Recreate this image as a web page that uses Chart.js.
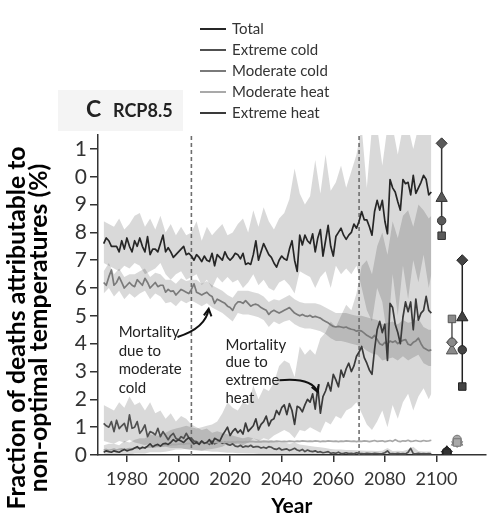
<!DOCTYPE html>
<html>
<head>
<meta charset="utf-8">
<script src="https://cdn.jsdelivr.net/npm/chart.js@4.4.0/dist/chart.umd.min.js"></script>
<style>
  body { margin: 0; background: #fff; }
  canvas { display: block; }
</style>
</head>
<body>
<canvas id="chart" width="493" height="517"></canvas>
<script>
// ---- data ----
const seriesNames = ["Total", "Extreme cold", "Moderate cold", "Moderate heat", "Extreme heat"];
const yTickLabels = ["0", "1", "2", "3", "4", "5", "6", "7", "8", "9", "0", "1"];
const periodMarks = [2005, 2070];

// yearly values 1971-2098
const years = [];
for (let y = 1971; y <= 2098; y++) years.push(y);

const total = [
  7.6, 7.8, 7.7, 7.5, 7.5, 7.5, 7.3, 7.7, 7.4, 7.8,
  7.5, 7.3, 7.7, 7.5, 7.8, 7.5, 7.3, 7.85, 7.2, 7.4,
  7.4, 7.3, 7.6, 7.9, 7.3, 7.45, 7.3, 7.1, 7.2, 7.3,
  7.4, 7.5, 7.2, 7.25, 7.15, 7.0, 7.2, 7.1, 6.95, 7.15,
  7.0, 6.95, 7.25, 6.8, 7.2, 7.1, 7.0, 7.3, 7.1, 7.0,
  7.1, 7.25, 7.2, 7.05, 7.25, 6.85, 6.9, 6.85, 7.2, 7.7,
  7.0, 7.3, 7.6, 7.4, 7.2, 7.1, 6.9, 6.75, 7.0, 7.15,
  7.05, 7.0, 7.4, 7.7, 7.0, 6.6, 7.9, 7.55, 7.9, 7.7,
  7.6, 7.95, 7.3, 7.8, 8.1, 7.15, 7.7, 8.25, 7.5, 7.15,
  7.85, 8.0, 8.15, 7.9, 7.75, 7.9, 8.0, 8.3, 8.15, 8.4,
  8.75, 8.45, 8.45, 8.2, 7.9, 8.75, 9.15, 8.8, 9.15, 8.4,
  7.95, 9.9, 9.6, 9.45, 9.1, 8.8, 9.9, 9.75, 9.8, 9.35,
  10.05, 9.4, 9.6, 9.8, 10.05, 9.9, 9.35, 9.45
];
const extremeCold = [
  1.14, 1.05, 1.0, 1.2, 0.84, 1.25, 0.95, 1.05, 1.14, 0.85,
  1.44, 0.96, 1.0, 1.2, 0.78, 0.9, 1.08, 0.66, 0.84, 0.8,
  0.72, 0.96, 0.66, 0.84, 0.7, 0.55, 0.7, 0.78, 0.6, 0.54,
  0.66, 0.6, 0.78, 0.62, 0.6, 0.5, 0.48, 0.42, 0.5, 0.42,
  0.45, 0.38, 0.5, 0.4, 0.45, 0.48, 0.42, 0.45, 0.38, 0.35,
  0.4, 0.32, 0.3, 0.35, 0.28, 0.32, 0.3, 0.35, 0.28, 0.3,
  0.3, 0.25, 0.28, 0.24, 0.3, 0.28, 0.22, 0.2, 0.25, 0.18,
  0.2, 0.22, 0.16, 0.2, 0.24, 0.18, 0.15, 0.2, 0.12, 0.18,
  0.14, 0.12, 0.15, 0.1, 0.12, 0.08, 0.1, 0.12, 0.06, 0.08,
  0.06, 0.1, 0.05, 0.06, 0.08, 0.05, 0.06, 0.04, 0.08, 0.06,
  0.05, 0.04, 0.06, 0.05, 0.04, 0.06, 0.05, 0.04, 0.05, 0.08,
  0.15, 0.04, 0.05, 0.04, 0.06, 0.04, 0.05, 0.04, 0.1, 0.24,
  0.05, 0.04, 0.06, 0.04, 0.05, 0.04, 0.05, 0.04
];
const moderateCold = [
  6.2, 6.1, 6.4, 6.65, 6.1, 6.2, 6.4, 6.2, 6.0, 6.1,
  6.2, 6.1, 6.05, 6.3, 6.2, 6.1, 6.35, 6.2, 6.0, 6.1,
  6.2, 6.05, 6.1, 6.1, 5.85, 5.95, 5.88, 5.9, 5.75, 5.85,
  5.95, 5.9, 5.85, 5.8, 5.95, 6.15, 5.85, 5.8, 5.75, 5.8,
  5.85, 5.75, 5.7, 5.45, 5.6, 5.55, 5.5, 5.45, 5.35, 5.3,
  5.2, 5.4, 5.5, 5.5, 5.45, 5.55, 5.45, 5.35, 5.4, 5.42,
  5.38, 5.3, 5.25, 5.2, 5.05, 5.15, 5.2, 5.15, 5.1, 5.15,
  5.2, 5.25, 5.3, 5.2, 5.1, 5.05, 5.0, 5.05, 5.0, 4.98,
  5.02, 4.95, 4.98, 4.95, 4.92, 4.85, 4.8, 4.75, 4.68, 4.62,
  4.6, 4.62, 4.6, 4.58, 4.6, 4.55, 4.52, 4.5, 4.45, 4.48,
  4.45, 4.38, 4.3, 4.25, 4.2, 4.3, 4.15, 4.0, 3.95, 4.05,
  3.98, 4.1, 4.05, 4.1, 4.0, 4.08, 4.12, 4.15, 3.98, 3.95,
  4.05, 4.1, 4.2, 4.0, 3.85, 3.8, 3.75, 3.78
];
const moderateHeat = [
  0.18, 0.2, 0.17, 0.19, 0.21, 0.18, 0.2, 0.22, 0.2, 0.21,
  0.23, 0.22, 0.25, 0.24, 0.26, 0.25, 0.27, 0.28, 0.3, 0.28,
  0.3, 0.32, 0.31, 0.33, 0.35, 0.34, 0.36, 0.38, 0.37, 0.39,
  0.4, 0.38, 0.41, 0.42, 0.4, 0.41, 0.43, 0.42, 0.44, 0.43,
  0.44, 0.45, 0.43, 0.46, 0.45, 0.47, 0.46, 0.45, 0.47, 0.46,
  0.47, 0.46, 0.48, 0.47, 0.46, 0.48, 0.47, 0.49, 0.48, 0.47,
  0.48, 0.47, 0.49, 0.48, 0.47, 0.49, 0.48, 0.5, 0.49, 0.48,
  0.49, 0.48, 0.5, 0.49, 0.48, 0.5, 0.49, 0.51, 0.5, 0.49,
  0.5, 0.49, 0.51, 0.5, 0.48, 0.5, 0.49, 0.51, 0.5, 0.49,
  0.5, 0.48, 0.5, 0.49, 0.51, 0.5, 0.49, 0.5, 0.48, 0.5,
  0.49, 0.51, 0.5, 0.48, 0.5, 0.52, 0.49, 0.5, 0.51, 0.48,
  0.5, 0.52, 0.49, 0.55, 0.5, 0.48, 0.51, 0.5, 0.53, 0.49,
  0.5, 0.52, 0.5, 0.49, 0.52, 0.5, 0.51, 0.53
];
const extremeHeat = [
  0.1, 0.15, 0.12, 0.1, 0.15, 0.12, 0.1, 0.15, 0.2, 0.15,
  0.18, 0.2, 0.25, 0.3, 0.22, 0.28, 0.25, 0.32, 0.4, 0.3,
  0.35, 0.38, 0.32, 0.4, 0.42, 0.38, 0.45, 0.55, 0.48, 0.55,
  0.5, 0.45, 0.55, 0.62, 0.5, 0.4, 0.45, 0.38, 0.5, 0.42,
  0.45, 0.55, 0.4, 0.6, 0.55, 0.5, 0.7, 0.85, 1.0, 0.7,
  0.85, 0.95, 0.8, 0.9, 0.75, 1.15, 0.85, 0.95, 1.05, 1.3,
  0.9, 1.1, 1.2, 1.4, 1.05, 1.25, 1.3, 1.6, 1.45, 1.7,
  1.8, 1.45, 1.85, 1.6, 1.1, 1.75, 1.7, 1.55, 1.8, 2.0,
  1.9, 2.2, 1.65, 2.45, 1.5, 2.1, 2.3, 2.6, 2.3, 2.9,
  2.7, 2.45, 3.05, 2.8, 3.1, 3.3, 3.0, 3.2, 3.55, 3.7,
  3.9, 3.5, 3.3, 3.05, 2.9, 3.8, 4.5, 4.8, 4.4, 4.7,
  3.4, 5.45, 5.3, 4.7, 4.4, 4.0, 4.95, 5.5, 5.15, 5.5,
  4.5, 5.6, 4.85, 5.1, 5.2, 5.7, 5.2, 5.1
];

// confidence bands, every second year 1971-2097 plus 2098
const bandYears = [];
for (let y = 1971; y <= 2097; y += 2) bandYears.push(y);
bandYears.push(2098);

const totalHigh = [
  8.4, 8.3, 8.2, 8.5, 8.1, 8.3, 8.6, 8.7,
  8.2, 8.5, 8.1, 8.6, 8.0, 8.3, 7.9, 8.2,
  7.9, 8.0, 8.4, 7.7, 8.2, 7.9, 8.1, 8.3,
  7.9, 8.0, 8.3, 8.5, 8.0, 8.8, 8.2, 8.9,
  8.4, 8.1, 8.5, 8.7, 9.2, 10.3, 9.4, 9.0,
  9.3, 10.6, 9.4, 10.8, 9.5, 9.8, 10.4, 9.6,
  10.2, 10.8, 11.8, 9.6, 11.8, 11.8, 10.4, 11.8,
  11.8, 10.8, 11.8, 11.8, 11.0, 11.8, 11.8, 11.8,
  11.8
];
const totalLow = [
  6.9, 6.8, 6.7, 6.6, 6.8, 6.7, 6.9, 6.8,
  6.5, 6.6, 6.7, 6.9, 6.5, 6.3, 6.5, 6.6,
  6.3, 6.4, 6.5, 6.1, 6.3, 6.0, 6.4, 6.2,
  6.4, 6.2, 6.3, 6.0, 6.2, 6.5, 6.1, 6.3,
  6.0, 5.9, 6.2, 6.3, 6.1, 5.8, 6.6, 6.5,
  6.4, 6.0, 6.4, 6.6, 6.0, 6.8, 6.5, 6.7,
  6.5, 6.8, 6.0, 5.2, 4.8, 6.0, 5.5, 4.2,
  6.5, 5.0, 6.8, 5.6, 7.0, 6.2, 7.2, 6.0,
  6.5
];
const modColdHigh = [
  6.6, 6.9, 6.5, 6.7, 6.4, 6.5, 6.5, 6.6,
  6.7, 6.4, 6.55, 6.5, 6.3, 6.3, 6.15, 6.35,
  6.25, 6.3, 6.3, 6.15, 6.25, 6.1, 6.0, 5.9,
  5.75, 5.65, 5.9, 5.9, 5.9, 5.85, 5.8, 5.7,
  5.5, 5.6, 5.55, 5.65, 5.75, 5.6, 5.5, 5.45,
  5.45, 5.45, 5.4, 5.3, 5.2, 5.1, 5.1, 5.1,
  5.05, 5.0, 5.0, 4.95, 4.9, 4.85, 4.7, 4.75,
  4.8, 4.7, 4.85, 4.75, 4.8, 4.9, 4.6, 4.5,
  4.5
];
const modColdLow = [
  5.8, 6.0, 5.7, 5.9, 5.6, 5.8, 5.65, 5.8,
  5.9, 5.6, 5.8, 5.7, 5.45, 5.5, 5.35, 5.55,
  5.45, 5.55, 5.45, 5.35, 5.45, 5.3, 5.2, 5.1,
  4.95, 4.8, 5.1, 5.05, 5.05, 5.0, 4.95, 4.85,
  4.6, 4.8, 4.7, 4.8, 4.85, 4.7, 4.6, 4.55,
  4.55, 4.5, 4.45, 4.35, 4.2, 4.1, 4.1, 4.05,
  4.0, 3.95, 3.9, 3.75, 3.65, 3.6, 3.4, 3.45,
  3.5, 3.4, 3.55, 3.4, 3.5, 3.6, 3.3, 3.2,
  3.2
];
const extHeatHigh = [
  0.35, 0.4, 0.4, 0.35, 0.5, 0.45, 0.55, 0.6,
  0.6, 0.75, 0.7, 0.7, 0.8, 0.9, 0.95, 1.0,
  1.05, 1.0, 0.95, 1.0, 1.05, 1.1, 1.2, 1.5,
  1.9, 1.7, 1.6, 1.9, 1.8, 2.5, 2.0, 2.4,
  2.3, 2.6, 3.2, 3.4, 3.3, 2.8, 3.9, 3.6,
  3.8, 3.6, 4.2, 4.4, 4.8, 4.6, 5.0, 5.4,
  5.2, 5.8, 6.8, 7.0, 6.5, 7.5, 8.0, 7.2,
  8.4, 7.8, 8.6, 8.8, 8.2, 9.0, 8.8, 8.5,
  8.6
];
const extHeatLow = [
  0.0, 0.0, 0.0, 0.0, 0.02, 0.0, 0.05, 0.05,
  0.05, 0.1, 0.1, 0.1, 0.12, 0.15, 0.2, 0.2,
  0.22, 0.2, 0.18, 0.15, 0.2, 0.22, 0.25, 0.3,
  0.4, 0.35, 0.4, 0.35, 0.45, 0.6, 0.5, 0.6,
  0.55, 0.7, 0.8, 0.9, 0.8, 0.6, 0.9, 0.85,
  1.0, 0.9, 0.8, 1.2, 1.1, 1.4, 1.3, 1.6,
  1.7, 1.9, 1.5, 1.1, 0.9, 1.2, 1.6, 1.0,
  1.8, 1.3, 1.9, 2.2, 1.6, 2.1, 2.4, 2.0,
  2.2
];
const extColdHigh = [
  1.8, 1.7, 1.6, 1.9, 1.7, 2.1, 1.8, 1.9,
  1.6, 1.9, 1.5, 1.6, 1.3, 1.5, 1.2, 1.4,
  1.3, 1.1, 1.0, 0.9, 0.95, 0.8, 0.85, 0.8,
  0.75, 0.7, 0.65, 0.6, 0.65, 0.6, 0.55, 0.55,
  0.55, 0.5, 0.45, 0.45, 0.4, 0.45, 0.38, 0.35,
  0.32, 0.3, 0.28, 0.25, 0.22, 0.2, 0.2, 0.18,
  0.18, 0.17, 0.16, 0.15, 0.15, 0.14, 0.15, 0.25,
  0.14, 0.15, 0.14, 0.2, 0.3, 0.14, 0.13, 0.13,
  0.13
];
const extColdLow = [
  0.5, 0.45, 0.4, 0.5, 0.45, 0.55, 0.45, 0.4,
  0.35, 0.4, 0.35, 0.3, 0.3, 0.25, 0.25, 0.25,
  0.2, 0.18, 0.16, 0.15, 0.14, 0.12, 0.12, 0.1,
  0.08, 0.08, 0.06, 0.06, 0.05, 0.05, 0.04, 0.04,
  0.03, 0.03, 0.02, 0.02, 0.02, 0.02, 0.01, 0.01,
  0, 0, 0, 0, 0, 0, 0, 0,
  0, 0, 0, 0, 0, 0, 0, 0,
  0, 0, 0, 0, 0, 0, 0, 0,
  0
];

// end-of-century estimates, one group per series
const markerYears = [2102, 2104, 2106, 2108, 2110];
const diamondVals = [11.2, 0.12, 4.05, 0.47, 7.0];
const triangleVals = [9.23, 0.1, 3.75, 0.47, 4.94];
const circleVals = [8.42, 0.12, 4.05, 0.56, 3.78];
const squareVals = [7.88, 0.08, 4.89, 0.45, 2.46];

// ---- styles ----
const lineColors = ["#262626", "#505050", "#7a7a7a", "#a9a9a9", "#3a3a3a"];
const markerFill = ["#5a5a5a", "#333333", "#8a8a8a", "#a8a8a8", "#444444"];
const markerEdge = ["#333333", "#222222", "#555555", "#777777", "#222222"];
const bandColor = "rgba(0,0,0,0.15)";
const FONT = "Lato, 'Open Sans', sans-serif";

function pts(xs, ys) {
  return xs.map((x, i) => ({ x: x, y: ys[i] }));
}

const datasets = [];
const bands = [[extColdLow, extColdHigh], [extHeatLow, extHeatHigh], [modColdLow, modColdHigh], [totalLow, totalHigh]];
bands.forEach(([lo, hi]) => {
  datasets.push({ data: pts(bandYears, lo), borderWidth: 0, pointRadius: 0, fill: false, order: 10 });
  datasets.push({ data: pts(bandYears, hi), borderWidth: 0, pointRadius: 0, fill: "-1",
    backgroundColor: bandColor, order: 10 });
});

periodMarks.forEach(yr => {
  datasets.push({ data: [{ x: yr, y: 0 }, { x: yr, y: 11.5 }], borderColor: "#6e6e6e", borderWidth: 1.6,
    borderDash: [4, 3], pointRadius: 0, fill: false, order: 5 });
});

const series = [total, extremeCold, moderateCold, moderateHeat, extremeHeat];
series.forEach((vals, i) => {
  datasets.push({ label: seriesNames[i], data: pts(years, vals), borderColor: lineColors[i],
    borderWidth: 1.7, pointRadius: 0, fill: false, borderJoinStyle: "round", order: 3 - i * 0.1 });
});

// vertical range line behind each marker group
markerYears.forEach((yr, g) => {
  const v = [diamondVals[g], triangleVals[g], circleVals[g], squareVals[g]];
  datasets.push({ data: [{ x: yr, y: Math.min(...v) }, { x: yr, y: Math.max(...v) }],
    borderColor: markerEdge[g], borderWidth: 1.5, pointRadius: 0, fill: false, order: 1 });
});

const markerSets = [
  { vals: diamondVals, style: "rectRot", r: 5.5, order: 0.4 },
  { vals: triangleVals, style: "triangle", r: 6.5, order: 0.3 },
  { vals: circleVals, style: "circle", r: 4.2, order: 0.2 },
  { vals: squareVals, style: "rect", r: 5.3, order: 0.1 }
];
markerSets.forEach(m => {
  datasets.push({ data: pts(markerYears, m.vals), showLine: false, pointStyle: m.style, pointRadius: m.r,
    pointBackgroundColor: markerFill, pointBorderColor: markerEdge, pointBorderWidth: 1, order: m.order });
});

// ---- annotations (data coordinates) ----
const notes = [
  { lines: ["Mortality", "due to", "moderate", "cold"], x: 1976.8, y: 4.42, gap: 18.7,
    arrow: { from: [1999.6, 4.24], ctrl: [2010.6, 4.56], to: [2011.7, 5.25] } },
  { lines: ["Mortality", "due to", "extreme", "heat"], x: 2018.2, y: 3.96, gap: 17.8,
    arrow: { from: [2039.1, 2.69], ctrl: [2051.7, 2.80], to: [2054.0, 2.26] } }
];

const decor = {
  id: "decor",
  beforeDraw(chart) {
    const ctx = chart.ctx;
    ctx.save();
    ctx.fillStyle = "#f4f4f4";
    ctx.fillRect(58, 90, 125, 41);
    ctx.restore();
  },
  afterDraw(chart) {
    const ctx = chart.ctx;
    const xs = chart.scales.x, ys = chart.scales.y;
    ctx.save();

    // legend
    ctx.font = "15px " + FONT;
    ctx.textBaseline = "middle";
    seriesNames.forEach((name, i) => {
      const y = 29 + 21 * i;
      ctx.strokeStyle = lineColors[i];
      ctx.lineWidth = 2;
      ctx.beginPath(); ctx.moveTo(200, y); ctx.lineTo(226, y); ctx.stroke();
      ctx.fillStyle = "#333";
      ctx.fillText(name, 232, y);
    });

    // panel label
    ctx.fillStyle = "#222";
    ctx.textBaseline = "alphabetic";
    ctx.font = "bold 23px " + FONT;
    ctx.fillText("C", 86, 117);
    ctx.font = "bold 18px " + FONT;
    ctx.fillText("RCP8.5", 113, 117);

    // y axis title, two rotated lines
    const t1 = "Fraction of deaths attributable to";
    const t2 = "non-optimal temperatures (%)";
    ctx.font = "bold 20px " + FONT;
    const size = 20 * 363 / ctx.measureText(t1).width;
    ctx.font = "bold " + size.toFixed(2) + "px " + FONT;
    ctx.fillStyle = "#000";
    ctx.textAlign = "center";
    [[t1, 25], [t2, 46.5]].forEach(([txt, bx]) => {
      ctx.save();
      ctx.translate(bx, 328);
      ctx.rotate(-Math.PI / 2);
      ctx.fillText(txt, 0, 0);
      ctx.restore();
    });

    // annotations
    ctx.textAlign = "left";
    ctx.textBaseline = "middle";
    ctx.font = "15px " + FONT;
    ctx.fillStyle = "#222";
    notes.forEach(n => {
      const x0 = xs.getPixelForValue(n.x), y0 = ys.getPixelForValue(n.y);
      n.lines.forEach((l, k) => ctx.fillText(l, x0, y0 + k * n.gap));
      const a = n.arrow;
      const p0 = [xs.getPixelForValue(a.from[0]), ys.getPixelForValue(a.from[1])];
      const pc = [xs.getPixelForValue(a.ctrl[0]), ys.getPixelForValue(a.ctrl[1])];
      const p1 = [xs.getPixelForValue(a.to[0]), ys.getPixelForValue(a.to[1])];
      ctx.strokeStyle = "#111";
      ctx.lineWidth = 2;
      ctx.beginPath();
      ctx.moveTo(p0[0], p0[1]);
      ctx.quadraticCurveTo(pc[0], pc[1], p1[0], p1[1]);
      ctx.stroke();
      const ang = Math.atan2(p1[1] - pc[1], p1[0] - pc[0]);
      ctx.beginPath();
      ctx.moveTo(p1[0] - 8 * Math.cos(ang - 0.5), p1[1] - 8 * Math.sin(ang - 0.5));
      ctx.lineTo(p1[0], p1[1]);
      ctx.lineTo(p1[0] - 8 * Math.cos(ang + 0.5), p1[1] - 8 * Math.sin(ang + 0.5));
      ctx.stroke();
    });
    ctx.restore();
  }
};

Chart.defaults.font.family = FONT;
new Chart(document.getElementById("chart"), {
  type: "line",
  data: { datasets: datasets },
  options: {
    responsive: false,
    animation: false,
    devicePixelRatio: 1,
    layout: { padding: { top: 135, right: 0, left: 0, bottom: 0 } },
    plugins: { legend: { display: false }, tooltip: { enabled: false } },
    scales: {
      x: {
        type: "linear",
        min: 1968.8,
        max: 2119,
        afterFit(scale) { scale.height = 62; },
        border: { color: "#333", width: 1.5 },
        grid: { drawOnChartArea: false, tickLength: 7, color: "#333", lineWidth: 1.5 },
        ticks: { stepSize: 20, includeBounds: false, padding: 6, color: "#333", font: { size: 18 },
          callback: v => String(v) },
        title: { display: true, text: "Year", color: "#000", font: { size: 21, weight: "bold", lineHeight: 1 },
          padding: { top: 0, bottom: 0 } }
      },
      y: {
        min: 0,
        max: 11.5,
        afterFit(scale) { scale.width = 98; },
        border: { color: "#333", width: 1.5 },
        grid: { drawOnChartArea: false, tickLength: 8, color: "#333", lineWidth: 1.5 },
        ticks: { stepSize: 1, includeBounds: false, padding: 3, color: "#333", font: { size: 21 },
          callback: v => yTickLabels[v] }
      }
    }
  },
  plugins: [decor]
});
</script>
</body>
</html>
